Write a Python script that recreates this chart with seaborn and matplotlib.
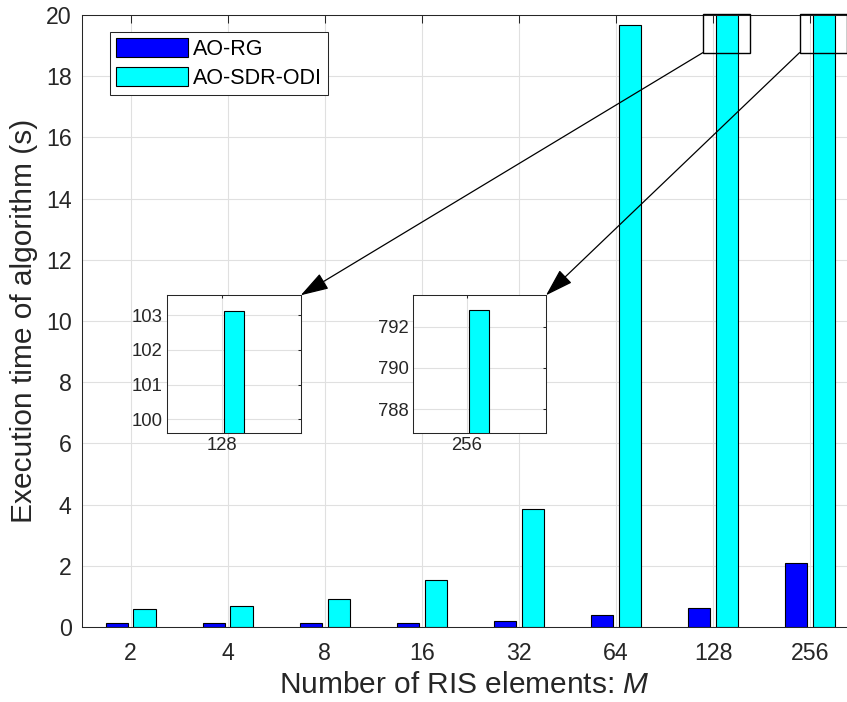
import numpy as np
import pandas as pd
import matplotlib
matplotlib.use('Agg')
import matplotlib.pyplot as plt
import seaborn as sns
from matplotlib.patches import Rectangle, ConnectionPatch

# ---------------- data ----------------
M_labels = ['2', '4', '8', '16', '32', '64', '128', '256']
ao_rg = [0.14, 0.13, 0.14, 0.14, 0.21, 0.38, 0.62, 2.08]
ao_sdr_odi = [0.60, 0.69, 0.91, 1.52, 3.87, 19.68, 103.11, 792.79]
series_names = ['AO-RG', 'AO-SDR-ODI']
colors = ['#0000ff', '#00ffff']
main_yticks = list(range(0, 21, 2))
inset1_yticks = [100, 101, 102, 103]
inset2_yticks = [788, 790, 792]

df = pd.DataFrame({
    'M': M_labels * 2,
    'time': ao_rg + ao_sdr_odi,
    'method': [series_names[0]] * len(M_labels) + [series_names[1]] * len(M_labels),
})

# ---------------- style ----------------
sns.set_theme(style='white')
plt.rcParams['font.family'] = ['Liberation Sans', 'DejaVu Sans']
plt.rcParams['mathtext.fontset'] = 'custom'
plt.rcParams['mathtext.rm'] = 'Liberation Sans'
plt.rcParams['mathtext.it'] = 'Liberation Sans:italic'

TXT = '#262626'
GRID = '#e0e0e0'
W, H = 847, 702
fig = plt.figure(figsize=(W / 100, H / 100), dpi=100)
fig.patch.set_facecolor('white')


def fpos(x0, y0, x1, y1):
    return [x0 / W, (H - y1) / H, (x1 - x0) / W, (y1 - y0) / H]


def draw(a, legend):
    sns.barplot(data=df, x='M', y='time', hue='method', order=M_labels,
                hue_order=series_names, palette=colors, saturation=1,
                width=0.5714, gap=0.2, edgecolor='black', linewidth=0.8,
                errorbar=None, ax=a, legend=legend)
    a.set_xlabel('')
    a.set_ylabel('')
    a.grid(True, color=GRID, linewidth=0.8)
    a.set_axisbelow(True)
    for s in a.spines.values():
        s.set_visible(True)
        s.set_color(TXT)
        s.set_linewidth(0.75)


# ---------------- main axes ----------------
ax = fig.add_axes(fpos(82, 15, 858.8, 627))
draw(ax, 'auto')
ax.set_xlim(-0.5, 7.5)
ax.set_ylim(0, 20)
ax.set_yticks(main_yticks)
ax.tick_params(axis='both', direction='in', length=5.5, width=0.75, color=TXT,
               labelsize=16.7, labelcolor=TXT, top=True, right=True)
ax.tick_params(axis='x', pad=10.5)
ax.tick_params(axis='y', pad=7.5)
ax.set_xlabel('Number of RIS elements: $M$', fontsize=21.5, color=TXT, labelpad=5.5)
ax.set_ylabel('Execution time of algorithm (s)', fontsize=21.5, color=TXT, labelpad=6)
ax.xaxis.set_label_coords(0.492, -0.072)

h, l = ax.get_legend_handles_labels()
leg = ax.legend(h, l, loc='upper left', bbox_to_anchor=(109.7 / W, 1 - 31.7 / H),
                bbox_transform=fig.transFigure, fontsize=15.5, frameon=True,
                fancybox=False, edgecolor=TXT, framealpha=1, borderpad=0.3,
                handlelength=3.35, handleheight=1.0, handletextpad=0.2,
                labelspacing=0.3, borderaxespad=0)
leg.get_frame().set_linewidth(0.75)
for t in leg.get_texts():
    t.set_color('black')

# zoom boxes on main axes (data coordinates)
boxes = [(5.894, 18.77, 0.488, 1.26), (6.890, 18.77, 0.484, 1.26)]
for bx, by, bw, bh in boxes:
    ax.add_patch(Rectangle((bx, by), bw, bh, fill=False, edgecolor='black',
                           linewidth=1.0, clip_on=False, zorder=5))

# ---------------- insets ----------------
ins1 = fig.add_axes(fpos(166.7, 295.3, 300.7, 433))
draw(ins1, False)
ins1.set_xlim(5.358, 6.922)
ins1.set_ylim(99.61, 103.57)
ins1.set_xticks([6])
ins1.set_xticklabels([M_labels[6]])
ins1.set_yticks(inset1_yticks)

ins2 = fig.add_axes(fpos(412.7, 295.3, 546, 433))
draw(ins2, False)
ins2.set_xlim(6.37, 7.925)
ins2.set_ylim(786.85, 793.52)
ins2.set_xticks([7])
ins2.set_xticklabels([M_labels[7]])
ins2.set_yticks(inset2_yticks)

for a in (ins1, ins2):
    a.tick_params(axis='both', direction='in', length=2.5, width=0.75, color=TXT,
                  labelsize=13.3, labelcolor=TXT, top=True, right=True, pad=3)

# ---------------- arrows ----------------
for (bx, by, bw, bh), ins in zip(boxes, (ins1, ins2)):
    con = ConnectionPatch(xyA=(bx, by), coordsA=ax.transData,
                          xyB=(1, 1), coordsB=ins.transAxes,
                          arrowstyle='-|>,head_length=0.7,head_width=0.22',
                          mutation_scale=25, color='black', lw=0.9,
                          shrinkA=0, shrinkB=0, zorder=10)
    fig.add_artist(con)

fig.savefig('out.png', dpi=100, facecolor='white')
